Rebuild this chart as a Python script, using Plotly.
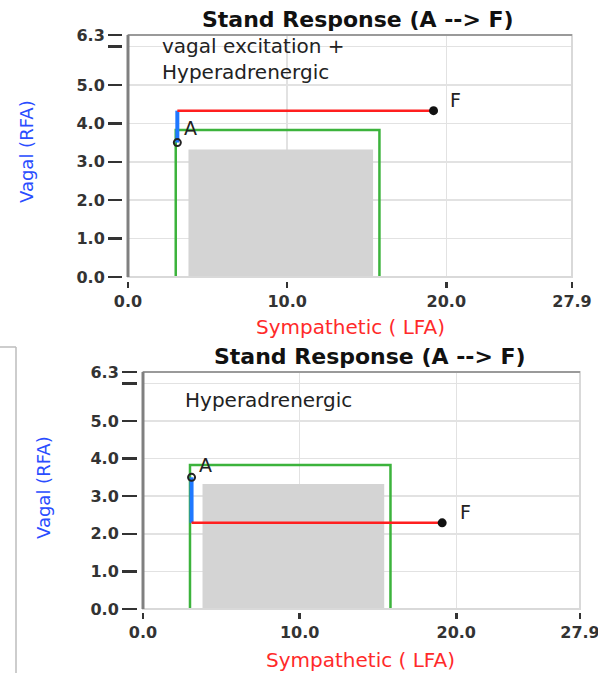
import plotly.graph_objects as go

W, H = 598, 673
FONT = "DejaVu Sans"

# ---------------- data ----------------
x_tick_vals = [0, 10, 20, 27.9]
x_tick_text = ["0.0", "10.0", "20.0", "27.9"]
y_tick_vals = [0, 1, 2, 3, 4, 5, 6, 6.3]
y_tick_text = ["0.0", "1.0", "2.0", "3.0", "4.0", "5.0", "", "6.3"]
x_max = 27.9
y_max = 6.3

# shared reference boxes (sympathetic range x, vagal range y)
green_box_x = [3.0, 15.8]
green_box_y = [0.0, 3.83]
gray_box_x = [3.8, 15.4]
gray_box_y = [0.0, 3.32]

# top panel: vagal excitation + hyperadrenergic
top_point_A = (3.1, 3.5)
top_mid = (3.1, 4.33)
top_point_F = (19.2, 4.33)
top_note = "vagal excitation +<br>Hyperadrenergic"

# bottom panel: hyperadrenergic
bot_point_A = (3.1, 3.5)
bot_mid = (3.1, 2.29)
bot_point_F = (19.1, 2.29)
bot_note = "Hyperadrenergic"

title_text = "Stand Response (A --> F)"
x_title = "Sympathetic ( LFA)"
y_title = "Vagal (RFA)"

# ---------------- layout helpers ----------------
def px_x(p):
    return p / W

def px_y(p):
    return (H - p) / H

fig = go.Figure()

panels = [
    dict(xa="x", ya="y", A=top_point_A, M=top_mid, F=top_point_F),
    dict(xa="x2", ya="y2", A=bot_point_A, M=bot_mid, F=bot_point_F),
]

for p in panels:
    xa, ya = p["xa"], p["ya"]
    # gray box
    fig.add_trace(go.Scatter(
        x=[gray_box_x[0], gray_box_x[1], gray_box_x[1], gray_box_x[0], gray_box_x[0]],
        y=[gray_box_y[0], gray_box_y[0], gray_box_y[1], gray_box_y[1], gray_box_y[0]],
        mode="lines", fill="toself", fillcolor="#d4d4d4", line=dict(width=0, color="#d4d4d4"),
        xaxis=xa, yaxis=ya, hoverinfo="skip", showlegend=False))
    # green box
    fig.add_trace(go.Scatter(
        x=[green_box_x[0], green_box_x[0], green_box_x[1], green_box_x[1]],
        y=[green_box_y[0], green_box_y[1], green_box_y[1], green_box_y[0]],
        mode="lines", line=dict(width=2.5, color="#3cb33c"),
        xaxis=xa, yaxis=ya, hoverinfo="skip", showlegend=False))
    # blue segment A -> mid
    fig.add_trace(go.Scatter(
        x=[p["A"][0], p["M"][0]], y=[p["A"][1], p["M"][1]],
        mode="lines", line=dict(width=4, color="#1f78ff"),
        xaxis=xa, yaxis=ya, hoverinfo="skip", showlegend=False))
    # red segment mid -> F
    fig.add_trace(go.Scatter(
        x=[p["M"][0], p["F"][0]], y=[p["M"][1], p["F"][1]],
        mode="lines", line=dict(width=2.5, color="#ff1f1f"),
        xaxis=xa, yaxis=ya, hoverinfo="skip", showlegend=False))
    # A marker (open)
    fig.add_trace(go.Scatter(
        x=[p["A"][0]], y=[p["A"][1]], mode="markers",
        marker=dict(symbol="circle-open", size=7, color="#222", line=dict(width=2, color="#222")),
        xaxis=xa, yaxis=ya, hoverinfo="skip", showlegend=False))
    # F marker (filled)
    fig.add_trace(go.Scatter(
        x=[p["F"][0]], y=[p["F"][1]], mode="markers",
        marker=dict(symbol="circle", size=9, color="#111"),
        xaxis=xa, yaxis=ya, hoverinfo="skip", showlegend=False))

axis_common = dict(
    showgrid=True, gridcolor="#e2e2e2", gridwidth=1.5, zeroline=False,
    showline=False, ticks="outside", tickcolor="#333", tickwidth=2.5,
    automargin=False, ticklabeloverflow="allow",
    tickfont=dict(family=FONT, size=16, color="#333", weight="bold"),
)

fig.update_layout(
    width=W, height=H, margin=dict(l=0, r=0, t=0, b=0, autoexpand=False),
    paper_bgcolor="white", plot_bgcolor="white", showlegend=False,
    xaxis=dict(domain=[px_x(128), px_x(572)], range=[0, x_max], anchor="free",
               position=px_y(281), tickvals=x_tick_vals, ticktext=x_tick_text,
               ticklen=6, **axis_common),
    yaxis=dict(domain=[px_y(277), px_y(35)], range=[0, y_max], anchor="free",
               position=px_x(122), tickvals=y_tick_vals, ticktext=y_tick_text,
               ticklen=14, **axis_common),
    xaxis2=dict(domain=[px_x(143), px_x(580)], range=[0, x_max], anchor="free",
                position=px_y(612), tickvals=x_tick_vals, ticktext=x_tick_text,
                ticklen=6, **axis_common),
    yaxis2=dict(domain=[px_y(609), px_y(372)], range=[0, y_max], anchor="free",
                position=px_x(137), tickvals=y_tick_vals, ticktext=y_tick_text,
                ticklen=15, **axis_common),
)

shapes = []
for xa, ya in [("x", "y"), ("x2", "y2")]:
    shapes.append(dict(type="rect", xref=f"{xa} domain", yref=f"{ya} domain",
                       x0=0, x1=1, y0=0, y1=1, line=dict(color="#d9d9d9", width=2), layer="above"))
    shapes.append(dict(type="line", xref=f"{xa} domain", yref=f"{ya} domain",
                       x0=0, x1=1, y0=1, y1=1, line=dict(color="#9a9a9a", width=2), layer="above"))
    shapes.append(dict(type="line", xref=f"{xa} domain", yref=f"{ya} domain",
                       x0=0, x1=0, y0=0, y1=1, line=dict(color="#808080", width=3), layer="above"))
# bracket artifact at left of lower panel
shapes.append(dict(type="line", xref="paper", yref="paper", x0=0, x1=px_x(16),
                   y0=px_y(347), y1=px_y(347), line=dict(color="#bdbdbd", width=1.5)))
shapes.append(dict(type="line", xref="paper", yref="paper", x0=px_x(16), x1=px_x(16),
                   y0=px_y(347), y1=0, line=dict(color="#bdbdbd", width=1.5)))
fig.update_layout(shapes=shapes)

ann = []
# titles
ann.append(dict(text=f"<b>{title_text}</b>", xref="paper", yref="paper", x=px_x(358), y=px_y(19),
                showarrow=False, xanchor="center", yanchor="middle",
                font=dict(family=FONT, size=22, color="#111")))
ann.append(dict(text=f"<b>{title_text}</b>", xref="paper", yref="paper", x=px_x(370), y=px_y(356),
                showarrow=False, xanchor="center", yanchor="middle",
                font=dict(family=FONT, size=22, color="#111")))
# axis titles
for xc, yc in [(350, 327), (360, 660)]:
    ann.append(dict(text=x_title, xref="paper", yref="paper", x=px_x(xc), y=px_y(yc),
                    showarrow=False, xanchor="center", yanchor="middle",
                    font=dict(family=FONT, size=20, color="#ff2a2a")))
for xc, yc in [(27, 152), (43, 487)]:
    ann.append(dict(text=y_title, xref="paper", yref="paper", x=px_x(xc), y=px_y(yc),
                    showarrow=False, xanchor="center", yanchor="middle", textangle=-90,
                    font=dict(family=FONT, size=18, color="#2a4dff")))
# notes
ann.append(dict(text=top_note, xref="x", yref="y", x=2.0, y=5.68, showarrow=False,
                xanchor="left", yanchor="middle", align="left",
                font=dict(family=FONT, size=20, color="#222")))
ann.append(dict(text=bot_note, xref="x2", yref="y2", x=2.55, y=5.56, showarrow=False,
                xanchor="left", yanchor="middle", align="left",
                font=dict(family=FONT, size=20, color="#222")))
# point labels
for xa, ya, A, F in [("x", "y", (3.9, 3.88), (20.6, 4.6)), ("x2", "y2", (3.96, 3.83), (20.6, 2.58))]:
    ann.append(dict(text="A", xref=xa, yref=ya, x=A[0], y=A[1], showarrow=False,
                    font=dict(family=FONT, size=19, color="#222")))
    ann.append(dict(text="F", xref=xa, yref=ya, x=F[0], y=F[1], showarrow=False,
                    font=dict(family=FONT, size=19, color="#222")))
fig.update_layout(annotations=ann)

fig.write_html(
    "out.html",
    config={"displayModeBar": False, "staticPlot": True},
    post_script="document.body.style.margin='0';document.body.style.overflow='hidden';",
)
